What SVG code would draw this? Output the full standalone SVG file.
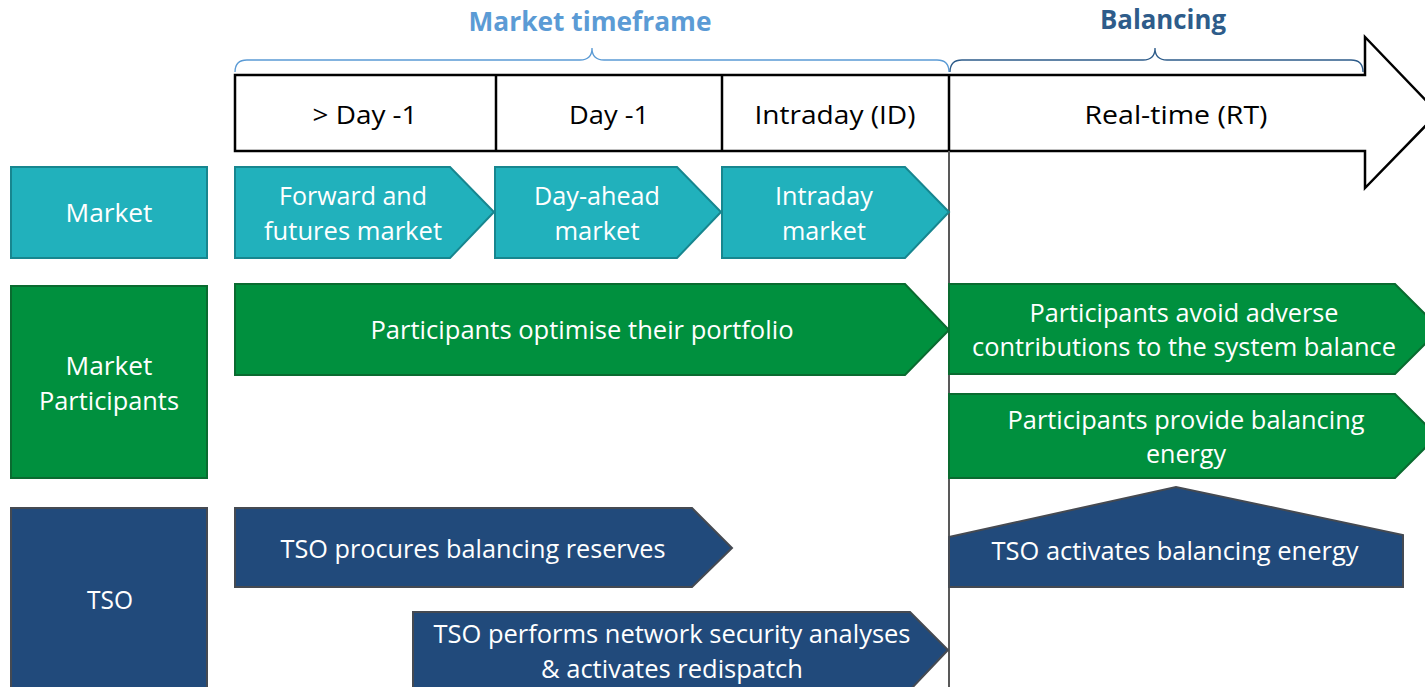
<svg xmlns="http://www.w3.org/2000/svg" width="1425" height="687" viewBox="0 0 1425 687">
<style>
text{font-family:"Open Sans","Liberation Sans",sans-serif;text-anchor:middle}
.w{fill:#fff;font-size:25.5px}
.k{fill:#000;font-size:25.5px}
.teal{fill:#21B1BC;stroke:#17868F;stroke-width:2}
.green{fill:#00903E;stroke:#0A6B30;stroke-width:2}
.navy{fill:#214A7B;stroke:#454A52;stroke-width:2}
</style>
<rect width="1425" height="687" fill="#fff"/>
<g id="header">
<text x="590" y="31" style="font-size:26px;font-weight:bold;fill:#5B9BD5" textLength="243" lengthAdjust="spacingAndGlyphs">Market timeframe</text>
<text x="1163" y="29" style="font-size:26px;font-weight:bold;fill:#2E5C8A" textLength="126" lengthAdjust="spacingAndGlyphs">Balancing</text>
<path d="M235,72 Q235,60 247,60 H580 Q592,60 592,48 Q592,60 604,60 H937 Q949,60 949,72" fill="none" stroke="#5B9BD5" stroke-width="1.3"/>
<path d="M950,72 Q950,60 962,60 H1143 Q1155,60 1155,48 Q1155,60 1167,60 H1351 Q1363,60 1363,72" fill="none" stroke="#2E5C8A" stroke-width="1.3"/>
</g>
<g id="timeline">
<path d="M235,75 H1365 V37 L1438,113 L1365,188 V151 H235 Z" fill="#fff" stroke="#000" stroke-width="2.5" stroke-linejoin="miter"/>
<line x1="496" y1="75" x2="496" y2="151" stroke="#000" stroke-width="2.5"/>
<line x1="722" y1="75" x2="722" y2="151" stroke="#000" stroke-width="2.5"/>
<line x1="949" y1="75" x2="949" y2="151" stroke="#000" stroke-width="2.5"/>
<text class="k" x="365" y="124" textLength="105" lengthAdjust="spacingAndGlyphs">&gt; Day -1</text>
<text class="k" x="609" y="124" textLength="80" lengthAdjust="spacingAndGlyphs">Day -1</text>
<text class="k" x="835" y="124" textLength="161" lengthAdjust="spacingAndGlyphs">Intraday (ID)</text>
<text class="k" x="1176" y="124" textLength="183" lengthAdjust="spacingAndGlyphs">Real-time (RT)</text>
</g>
<g id="connectors">
<line x1="949" y1="151" x2="949" y2="687" stroke="#595959" stroke-width="2"/>
</g>
<g id="label-market">
<rect class="teal" x="11" y="167" width="196" height="91"/>
<text class="w" x="109" y="222" textLength="87" lengthAdjust="spacingAndGlyphs">Market</text>
</g>
<g id="forward">
<path class="teal" d="M235,167 H450 L494,212 L450,258 H235 Z"/>
<text class="w" x="353" y="205" textLength="148" lengthAdjust="spacingAndGlyphs">Forward and</text>
<text class="w" x="353" y="240" textLength="178" lengthAdjust="spacingAndGlyphs">futures market</text>
</g>
<g id="dayahead">
<path class="teal" d="M495,167 H677 L721,212 L677,258 H495 Z"/>
<text class="w" x="597" y="205" textLength="126" lengthAdjust="spacingAndGlyphs">Day-ahead</text>
<text class="w" x="597" y="240" textLength="85" lengthAdjust="spacingAndGlyphs">market</text>
</g>
<g id="intraday">
<path class="teal" d="M722,167 H905 L949,212 L905,258 H722 Z"/>
<text class="w" x="824" y="205" textLength="98" lengthAdjust="spacingAndGlyphs">Intraday</text>
<text class="w" x="824" y="240" textLength="84" lengthAdjust="spacingAndGlyphs">market</text>
</g>
<g id="label-participants">
<rect class="green" x="11" y="286" width="196" height="192"/>
<text class="w" x="109" y="375" textLength="87" lengthAdjust="spacingAndGlyphs">Market</text>
<text class="w" x="109" y="410" textLength="140" lengthAdjust="spacingAndGlyphs">Participants</text>
</g>
<g id="optimise">
<path class="green" d="M235,284 H905 L949,330 L905,375 H235 Z"/>
<text class="w" x="582" y="339" textLength="423" lengthAdjust="spacingAndGlyphs">Participants optimise their portfolio</text>
</g>
<g id="avoid">
<path class="green" d="M949,284 H1395 L1440,329 L1395,374 H949 Z"/>
<text class="w" x="1184" y="322" textLength="309" lengthAdjust="spacingAndGlyphs">Participants avoid adverse</text>
<text class="w" x="1184" y="356" textLength="424" lengthAdjust="spacingAndGlyphs">contributions to the system balance</text>
</g>
<g id="provide">
<path class="green" d="M949,394 H1395 L1437,436 L1395,478 H949 Z"/>
<text class="w" x="1186" y="429" textLength="357" lengthAdjust="spacingAndGlyphs">Participants provide balancing</text>
<text class="w" x="1186" y="463" textLength="80" lengthAdjust="spacingAndGlyphs">energy</text>
</g>
<g id="label-tso">
<rect class="navy" x="11" y="508" width="196" height="185"/>
<text class="w" x="110" y="609" textLength="46" lengthAdjust="spacingAndGlyphs">TSO</text>
</g>
<g id="procures">
<path class="navy" d="M235,508 H692 L732,548 L692,587 H235 Z"/>
<text class="w" x="473" y="558" textLength="385" lengthAdjust="spacingAndGlyphs">TSO procures balancing reserves</text>
</g>
<g id="performs">
<path class="navy" d="M413,612 H910 L948,650 L910,690 H413 Z"/>
<text class="w" x="672" y="643" textLength="477" lengthAdjust="spacingAndGlyphs">TSO performs network security analyses</text>
<text class="w" x="672" y="678" textLength="262" lengthAdjust="spacingAndGlyphs">&amp; activates redispatch</text>
</g>
<g id="activates">
<path class="navy" d="M949,537 L1176,487 L1403,535 V587 H949 Z"/>
<text class="w" x="1175" y="560" textLength="367" lengthAdjust="spacingAndGlyphs">TSO activates balancing energy</text>
</g>
</svg>
